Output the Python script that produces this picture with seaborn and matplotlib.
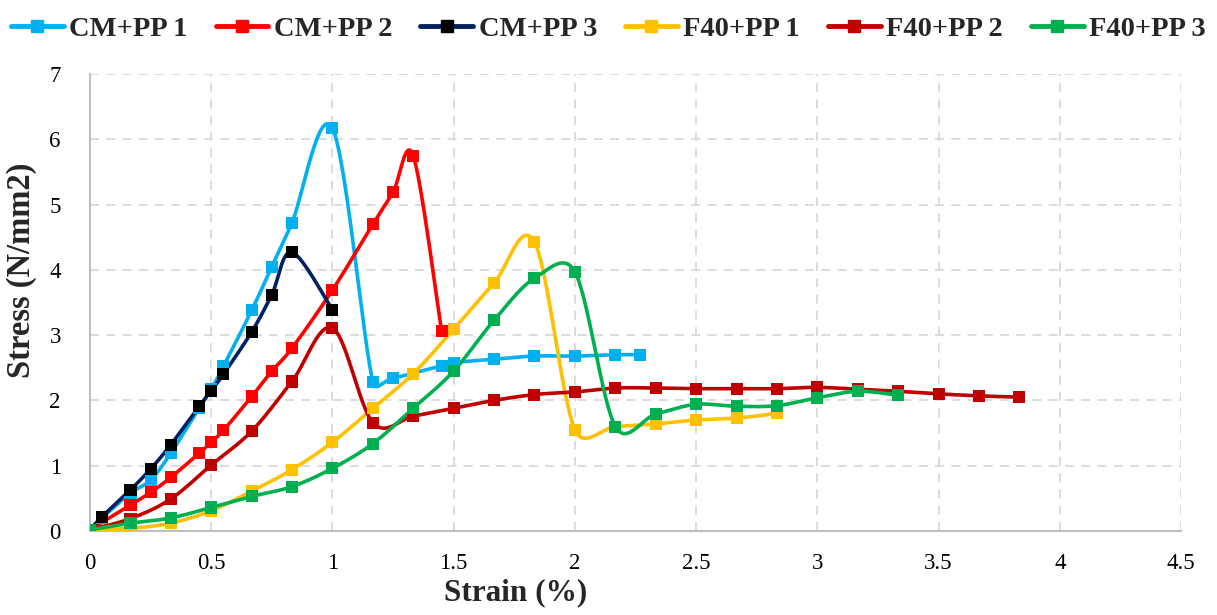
import numpy as np
import pandas as pd
import matplotlib
matplotlib.use("Agg")
import matplotlib.pyplot as plt
from matplotlib.lines import Line2D
import seaborn as sns

# ---- data: strain (%) and stress (N/mm2) per specimen ----
series_names = ["CM+PP 1", "CM+PP 2", "CM+PP 3", "F40+PP 1", "F40+PP 2", "F40+PP 3"]

strain_cm1 = [0, 0.05, 0.167, 0.25, 0.333, 0.45, 0.5, 0.55, 0.667, 0.75, 0.833, 1.0,
              1.167, 1.25, 1.45, 1.5, 1.667, 1.833, 2.0, 2.167, 2.267]
stress_cm1 = [0.02, 0.2, 0.58, 0.78, 1.19, 1.88, 2.17, 2.52, 3.38, 4.05, 4.72, 6.17,
              2.28, 2.34, 2.53, 2.58, 2.63, 2.68, 2.68, 2.7, 2.7]

strain_cm2 = [0, 0.167, 0.25, 0.333, 0.45, 0.5, 0.55, 0.667, 0.75, 0.833, 1.0,
              1.167, 1.25, 1.333, 1.45]
stress_cm2 = [0.02, 0.4, 0.59, 0.82, 1.19, 1.36, 1.54, 2.06, 2.45, 2.8, 3.69,
              4.7, 5.19, 5.75, 3.07]

strain_cm3 = [0, 0.05, 0.167, 0.25, 0.333, 0.45, 0.5, 0.55, 0.667, 0.75, 0.833, 1.0]
stress_cm3 = [0.02, 0.22, 0.63, 0.95, 1.32, 1.91, 2.15, 2.4, 3.05, 3.62, 4.27, 3.39]

strain_f1 = [0, 0.167, 0.333, 0.5, 0.667, 0.833, 1.0, 1.167, 1.333, 1.5, 1.667, 1.833,
             2.0, 2.167, 2.333, 2.5, 2.667, 2.833]
stress_f1 = [0.02, 0.04, 0.12, 0.31, 0.61, 0.94, 1.36, 1.88, 2.41, 3.09, 3.8, 4.43,
             1.55, 1.6, 1.64, 1.7, 1.73, 1.8]

strain_f2 = [0, 0.167, 0.333, 0.5, 0.667, 0.833, 1.0, 1.167, 1.333, 1.5, 1.667, 1.833,
             2.0, 2.167, 2.333, 2.5, 2.667, 2.833, 3.0, 3.167, 3.333, 3.5, 3.667, 3.833]
stress_f2 = [0.02, 0.19, 0.49, 1.01, 1.53, 2.29, 3.11, 1.66, 1.76, 1.88, 2.0, 2.09,
             2.13, 2.19, 2.19, 2.18, 2.18, 2.18, 2.2, 2.17, 2.14, 2.1, 2.07, 2.05]

strain_f3 = [0, 0.167, 0.333, 0.5, 0.667, 0.833, 1.0, 1.167, 1.333, 1.5, 1.667, 1.833,
             2.0, 2.167, 2.333, 2.5, 2.667, 2.833, 3.0, 3.167, 3.333]
stress_f3 = [0.02, 0.12, 0.2, 0.36, 0.53, 0.68, 0.96, 1.34, 1.88, 2.45, 3.23, 3.87,
             3.97, 1.6, 1.79, 1.94, 1.91, 1.92, 2.04, 2.14, 2.08]

x_ticks = [0, 0.5, 1, 1.5, 2, 2.5, 3, 3.5, 4, 4.5]
x_tick_labels = ["0", "0.5", "1", "1.5", "2", "2.5", "3", "3.5", "4", "4.5"]
y_ticks = [0, 1, 2, 3, 4, 5, 6, 7]

line_colors = ["#00B0F0", "#FF0000", "#002060", "#FFC000", "#C00000", "#00B050"]
marker_colors = ["#00B0F0", "#FF0000", "#000000", "#FFC000", "#C00000", "#00B050"]

strains = [strain_cm1, strain_cm2, strain_cm3, strain_f1, strain_f2, strain_f3]
stresses = [stress_cm1, stress_cm2, stress_cm3, stress_f1, stress_f2, stress_f3]

# screen aspect of one data unit (px per unit along x and y) used for smoothing
SX, SY = 242.4, 65.3


def _arm(vec, seg_len, cap=0.55):
    """Tangent arm of 1/6 the neighbour chord, limited relative to the segment length."""
    arm = vec / 6.0
    length = np.hypot(*arm)
    limit = cap * seg_len
    if length > limit and length > 0:
        arm = arm * (limit / length)
    return arm


def smooth_curve(xs, ys, steps=30):
    """Bezier smoothing through the points (spreadsheet-style smoothed line)."""
    p = np.column_stack([np.asarray(xs, float) * SX, np.asarray(ys, float) * SY])
    n = len(p)
    out = [p[0]]
    t = np.linspace(0, 1, steps + 1)[1:][:, None]
    for i in range(n - 1):
        p1, p2 = p[i], p[i + 1]
        d12 = np.hypot(*(p2 - p1))
        p0 = p[i - 1] if i > 0 else p1
        p3 = p[i + 2] if i + 2 < n else p2
        c1 = p1 + _arm(p2 - p0, d12)
        c2 = p2 - _arm(p3 - p1, d12)
        seg = ((1 - t) ** 3) * p1 + 3 * ((1 - t) ** 2) * t * c1 + 3 * (1 - t) * t ** 2 * c2 + t ** 3 * p2
        out.extend(seg)
    out = np.array(out)
    return out[:, 0] / SX, out[:, 1] / SY


sns.set_theme(style="white")
plt.rcParams["font.family"] = ["Liberation Serif", "DejaVu Serif"]

fig = plt.figure(figsize=(12.17, 6.15), dpi=100)
ax = fig.add_axes([90 / 1217, 84 / 615, (1181 - 90) / 1217, (531 - 74) / 615])

for name, xs, ys, lc, mc in zip(series_names, strains, stresses, line_colors, marker_colors):
    sx, sy = smooth_curve(xs, ys)
    curve = pd.DataFrame({"strain": sx, "stress": sy})
    sns.lineplot(data=curve, x="strain", y="stress", sort=False, estimator=None,
                 color=lc, linewidth=2.6, ax=ax, zorder=3)
    pts = pd.DataFrame({"strain": xs, "stress": ys})
    sns.scatterplot(data=pts, x="strain", y="stress", marker="s", s=75,
                    color=mc, edgecolor="none", linewidth=0, ax=ax, zorder=4)

ax.set_xlim(0, 4.5)
ax.set_ylim(0, 7)
ax.set_xticks(x_ticks)
ax.set_xticklabels(x_tick_labels)
ax.set_yticks(y_ticks)
ax.tick_params(axis="both", length=0, labelsize=16.5, colors="black")
ax.tick_params(axis="x", pad=16)
ax.tick_params(axis="y", pad=21)

ax.grid(True, color="#D9D9D9", linestyle=(0, (5, 4)), linewidth=1.3)
ax.set_axisbelow(True)
for side in ["top", "right"]:
    ax.spines[side].set_visible(False)
for side in ["left", "bottom"]:
    ax.spines[side].set_color("#BFBFBF")
    ax.spines[side].set_linewidth(1.5)

ax.set_xlabel("Strain (%)", fontsize=22.5, fontweight="bold")
ax.set_ylabel("Stress (N/mm2)", fontsize=23.5, fontweight="bold")
ax.xaxis.set_label_coords(0.39, -0.103)
ax.yaxis.set_label_coords(-0.049, 0.57)

handles = [Line2D([0], [0], color=lc, lw=3.5, marker="s", markersize=8,
                  markerfacecolor=mc, markeredgecolor=mc)
           for lc, mc in zip(line_colors, marker_colors)]
fig.legend(handles, series_names, loc="upper center", bbox_to_anchor=(0.5, 1.015),
           ncol=6, frameon=False, handlelength=1.85, handletextpad=0.2,
           columnspacing=0.98, prop={"family": "Liberation Serif", "weight": "bold", "size": 20.5})

fig.savefig("out.png", dpi=100)
